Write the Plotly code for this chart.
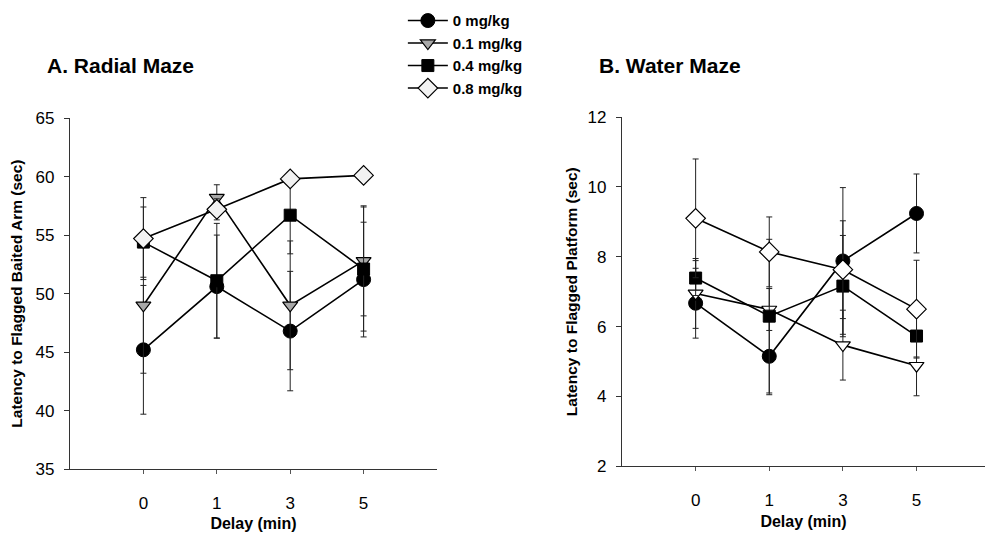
import plotly.graph_objects as go

delays = ["0", "1", "3", "5"]
doses = ["0 mg/kg", "0.1 mg/kg", "0.4 mg/kg", "0.8 mg/kg"]

# Panel A: Radial Maze (latency, sec) and SEM
radial_mean = {
    "0 mg/kg":   [45.2, 50.6, 46.8, 51.2],
    "0.1 mg/kg": [49.0, 58.2, 49.0, 52.8],
    "0.4 mg/kg": [54.4, 51.1, 56.7, 52.1],
    "0.8 mg/kg": [54.7, 57.2, 59.8, 60.1],
}
radial_err = {
    "0 mg/kg":   [5.5, 4.4, 5.1, 4.9],
    "0.1 mg/kg": [5.8, 1.1, 5.5, 4.7],
    "0.4 mg/kg": [3.0, 4.9, 3.3, 5.3],
    "0.8 mg/kg": [3.5, 0.9, 0.5, 0.3],
}

# Panel B: Water Maze (latency, sec) and SEM
water_mean = {
    "0 mg/kg":   [6.67, 5.15, 7.88, 9.24],
    "0.1 mg/kg": [6.95, 6.49, 5.47, 4.88],
    "0.4 mg/kg": [7.39, 6.30, 7.16, 5.73],
    "0.8 mg/kg": [9.10, 8.14, 7.63, 6.50],
}
water_err = {
    "0 mg/kg":   [1.0, 1.1, 2.1, 1.13],
    "0.1 mg/kg": [1.0, 0.6, 1.0, 0.86],
    "0.4 mg/kg": [0.5, 2.2, 1.45, 0.6],
    "0.8 mg/kg": [1.7, 1.0, 1.4, 1.4],
}

style_a = {
    "0 mg/kg":   dict(symbol="circle", size=14, color="black", line=dict(color="black", width=1)),
    "0.1 mg/kg": dict(symbol="triangle-down", size=13, color="#a8a8a8", line=dict(color="black", width=1.2)),
    "0.4 mg/kg": dict(symbol="square", size=12, color="black", line=dict(color="black", width=1)),
    "0.8 mg/kg": dict(symbol="diamond", size=15, color="#f2f2f2", line=dict(color="black", width=1.2)),
}
style_b = {
    "0 mg/kg":   dict(symbol="circle", size=14, color="black", line=dict(color="black", width=1)),
    "0.1 mg/kg": dict(symbol="triangle-down", size=13, color="white", line=dict(color="black", width=1.2)),
    "0.4 mg/kg": dict(symbol="square", size=12, color="black", line=dict(color="black", width=1)),
    "0.8 mg/kg": dict(symbol="diamond", size=15, color="white", line=dict(color="black", width=1.2)),
}

fig = go.Figure()
for d in doses:
    fig.add_trace(go.Scatter(
        x=delays, y=radial_mean[d], name=d, legendgroup=d, showlegend=True,
        mode="lines+markers", line=dict(color="black", width=1.6),
        marker=style_a[d],
        error_y=dict(type="data", array=radial_err[d], color="#222", thickness=1, width=3),
        xaxis="x", yaxis="y",
    ))
for d in doses:
    fig.add_trace(go.Scatter(
        x=delays, y=water_mean[d], name=d, legendgroup=d, showlegend=False,
        mode="lines+markers", line=dict(color="black", width=1.6),
        marker=style_b[d],
        error_y=dict(type="data", array=water_err[d], color="#222", thickness=1, width=3),
        xaxis="x2", yaxis="y2",
    ))

font_main = "Liberation Sans, Arial, sans-serif"
axis_common = dict(showgrid=False, zeroline=False, showline=True, linecolor="#333", linewidth=1.2,
                   tickfont=dict(family=font_main, size=17, color="black"))

xcommon = dict(type="category", ticks="outside", ticklen=4, tickcolor="#555", tickwidth=1,
               ticklabelstandoff=14,
               title=dict(text="<b>Delay (min)</b>", font=dict(size=16), standoff=6), **axis_common)
ycommon = dict(ticks="outside", ticklen=5, tickcolor="#333", ticklabelstandoff=6, **axis_common)

fig.update_layout(
    width=985, height=540,
    margin=dict(l=0, r=0, t=0, b=0),
    paper_bgcolor="white", plot_bgcolor="white",
    font=dict(family=font_main, color="black"),
    showlegend=True,
    legend=dict(x=0.409, y=1.009, xanchor="left", yanchor="top",
                font=dict(family=font_main, size=15, color="black", weight="bold"),
                bgcolor="rgba(0,0,0,0)", tracegroupgap=0, itemwidth=40),
    xaxis=dict(domain=[70/985, 437/985], range=[-1, 4], anchor="y", **xcommon),
    yaxis=dict(domain=[1-477/540, 1-113/540], range=[35, 65], dtick=5, anchor="x",
               title=dict(text="<b>Latency to Flagged Baited Arm (sec)</b>", font=dict(size=15.5), standoff=9),
               **ycommon),
    xaxis2=dict(domain=[622/985, 1.0], range=[-1, 3.93], anchor="y2", **xcommon),
    yaxis2=dict(domain=[1-474/540, 1-112/540], range=[2, 12], dtick=2, anchor="x2",
                title=dict(text="<b>Latency to Flagged Platform (sec)</b>", font=dict(size=15.5), standoff=6),
                **ycommon),
    annotations=[
        dict(text="<b>A. Radial Maze</b>", x=45/985, y=1-59/540, xref="paper", yref="paper",
             xanchor="left", yanchor="middle", showarrow=False, font=dict(size=21)),
        dict(text="<b>B. Water Maze</b>", x=597/985, y=1-59/540, xref="paper", yref="paper",
             xanchor="left", yanchor="middle", showarrow=False, font=dict(size=21)),
    ],
)

fig.write_html("out.html")
